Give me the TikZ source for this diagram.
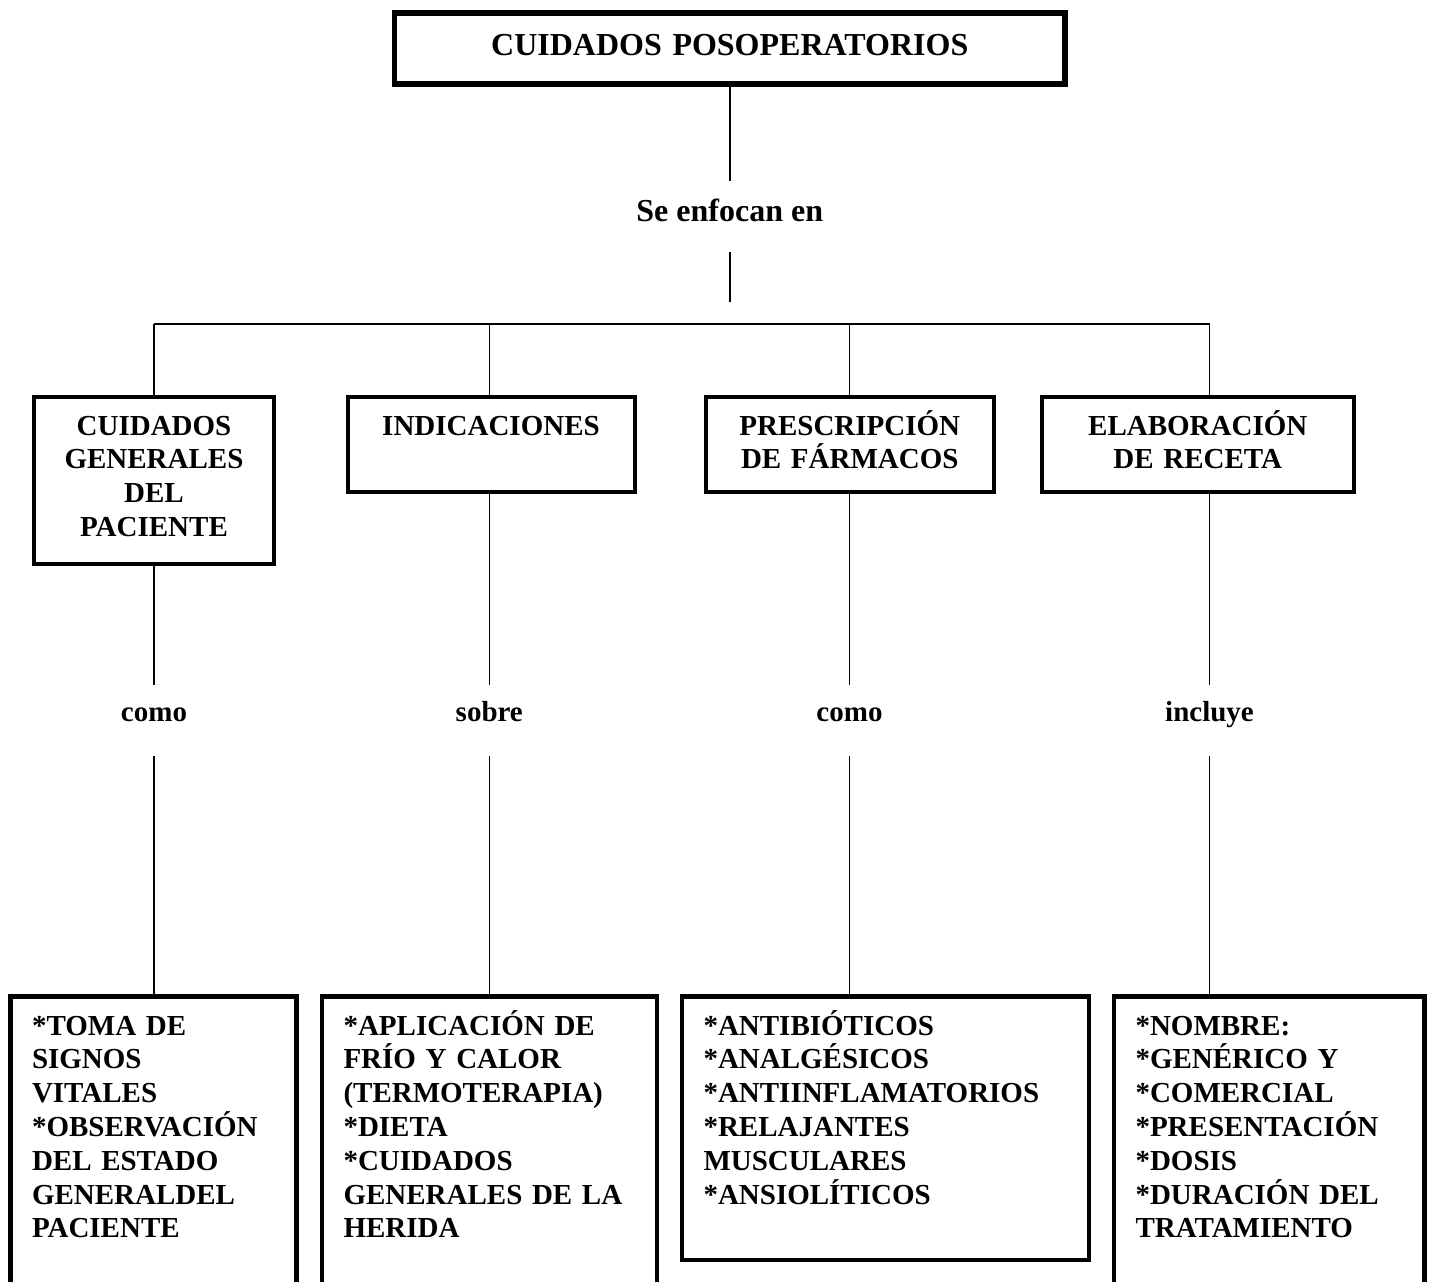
\documentclass[tikz,border=0pt]{standalone}
\usepackage{fontspec}
\setmainfont{Liberation Serif}
\newcommand\mybody{\fontsize{29}{33.8}\selectfont\bfseries}
\newcommand\mytitle{\fontsize{32}{36}\selectfont\bfseries}
\tikzset{
  bx/.style={draw, line width=4pt, line join=miter, inner xsep=0pt, inner ysep=0pt, outer sep=0pt,
    anchor=north west, align=center, font=\mybody, text height=38.5pt},
  lst/.style={draw, line width=4.5pt, line join=miter, inner xsep=21.5pt, inner ysep=0pt, outer sep=0pt,
    anchor=north west, align=left, font=\mybody, text height=38.3pt},
  lbl/.style={inner sep=0pt, outer sep=0pt, anchor=base, font=\mybody, text height=36.7pt, text depth=34.3pt},
  conn/.style={line width=1.6pt},
}
\begin{document}
\begin{tikzpicture}[x=1pt,y=-1pt]
\path[use as bounding box, fill=white] (0,0) rectangle (1433,1282);

% title
\node[draw, line width=5.5pt, line join=miter, inner sep=0pt, outer sep=0pt, anchor=north west,
  text width=670.5pt, align=center, font=\mytitle, text height=42pt, text depth=29pt]
  (top) at (394.5,13) {CUIDADOS POSOPERATORIOS};
\node[inner sep=0pt, outer sep=0pt, anchor=base, font=\mytitle, text height=40pt, text depth=31pt]
  (enf) at (729.75,221) {Se enfocan en};
\coordinate (hubend) at (729.75,302);

% bus
\coordinate (bus1) at (154,324);
\coordinate (bus2) at (489.3,324);
\coordinate (bus3) at (849.5,324);
\coordinate (bus4) at (1209.5,324);

% header boxes
\node[bx, text width=240pt, text depth=129pt] (b1) at (34,396.5) {CUIDADOS\\GENERALES\\DEL\\PACIENTE};
\node[bx, text width=287pt, text depth=57pt] (b2) at (347.5,396.5) {INDICACIONES};
\node[bx, text width=287.5pt, text depth=57pt] (b3) at (706,396.5) {PRESCRIPCIÓN\\DE FÁRMACOS};
\node[bx, text width=311.5pt, text depth=57pt] (b4) at (1042,396.5) {ELABORACIÓN\\DE RECETA};

% labels
\node[lbl] (l1) at (154,721.7) {como};
\node[lbl] (l2) at (489.3,721.7) {sobre};
\node[lbl] (l3) at (849.5,721.7) {como};
\node[lbl] (l4) at (1209.5,721.7) {incluye};

% bottom boxes
\node[lst, text width=243pt, text depth=275pt] (c1) at (10.5,996.7)
  {{*}TOMA DE\\SIGNOS\\VITALES\\{*}OBSERVACIÓN\\DEL ESTADO\\GENERALDEL\\PACIENTE};
\node[lst, text width=292pt, text depth=275pt] (c2) at (322,996.7)
  {{*}APLICACIÓN DE\\FRÍO Y CALOR\\(TERMOTERAPIA)\\{*}DIETA\\{*}CUIDADOS\\GENERALES DE LA\\HERIDA};
\node[lst, text width=364pt, text depth=225pt] (c3) at (682,996.7)
  {{*}ANTIBIÓTICOS\\{*}ANALGÉSICOS\\{*}ANTIINFLAMATORIOS\\{*}RELAJANTES\\MUSCULARES\\{*}ANSIOLÍTICOS};
\node[lst, text width=267.5pt, text depth=275pt] (c4) at (1114,996.7)
  {{*}NOMBRE:\\{*}GENÉRICO Y\\{*}COMERCIAL\\{*}PRESENTACIÓN\\{*}DOSIS\\{*}DURACIÓN DEL\\TRATAMIENTO};

% connectors
\draw[conn] (top.south) -- (enf.north);
\draw[conn] (enf.south) -- (hubend);
\draw[conn] (bus1) -- (bus4);
\draw[conn] (bus1) -- (bus1 |- b1.north);
\draw[conn] (bus2) -- (bus2 |- b2.north);
\draw[conn] (bus3) -- (bus3 |- b3.north);
\draw[conn] (bus4) -- (bus4 |- b4.north);

\draw[conn] (l1.north |- b1.south) -- (l1.north);
\draw[conn] (l2.north |- b2.south) -- (l2.north);
\draw[conn] (l3.north |- b3.south) -- (l3.north);
\draw[conn] (l4.north |- b4.south) -- (l4.north);

\draw[conn] (l1.south) -- (l1.south |- c1.north);
\draw[conn] (l2.south) -- (l2.south |- c2.north);
\draw[conn] (l3.south) -- (l3.south |- c3.north);
\draw[conn] (l4.south) -- (l4.south |- c4.north);
\end{tikzpicture}
\end{document}
